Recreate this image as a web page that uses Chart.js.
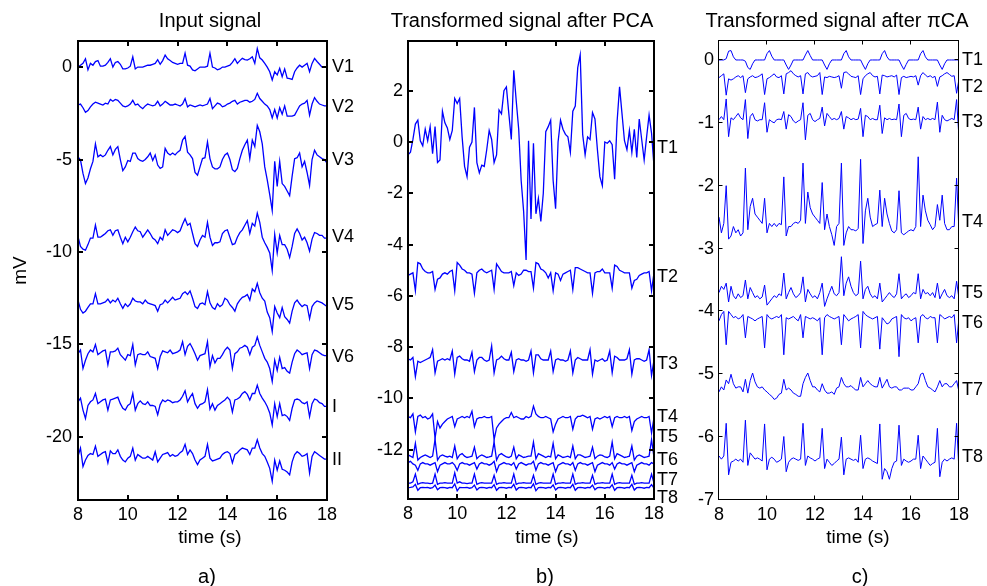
<!DOCTYPE html>
<html>
<head>
<meta charset="utf-8">
<script src="https://cdn.jsdelivr.net/npm/chart.js@4.4.1/dist/chart.umd.min.js"></script>
<style>
  body { margin: 0; background: #fff; }
  #wrap { position: relative; width: 987px; height: 586px; }
  #wrap canvas { position: absolute; left: 0; top: 0; }
</style>
</head>
<body>
<div id="wrap">
  <canvas id="chartA" width="987" height="586"></canvas>
  <canvas id="chartB" width="987" height="586"></canvas>
  <canvas id="chartC" width="987" height="586"></canvas>
</div>
<script>
// ---- data: one value every 0.1 s from 8.0 s to 18.0 s (101 samples) ----

// a) input signal, 8 leads (mV, already offset)
const v1 = [
  0.0, 0.1, 0.2, 0.45, -0.15, 0.2, 0.1, 0.3, 0.35, 0.05,
  0.05, 0.1, 0.25, 0.45, 0.0, 0.25, 0.3, 0.15, -0.1, -0.1,
  -0.05, 0.05, 0.55, -0.1, 0.0, 0.0, 0.0, 0.05, 0.1, 0.1,
  0.15, 0.2, 0.4, 0.15, 0.35, 0.65, 0.45, 0.35, 0.25, 0.2,
  0.15, 0.2, 0.2, 0.75, 0.1, 0.05, -0.15, -0.2, -0.1, 0.0,
  0.0, 0.0, 0.05, 0.75, 0.0, -0.05, -0.15, -0.1, 0.0, 0.0,
  0.05, 0.1, 0.25, 0.45, 0.2, 0.35, 0.47, 0.4, 0.38, 0.45,
  0.56, 0.2, 1.0, 0.5, 0.38, 0.2, 0.0, -0.25, -0.7, -0.25,
  -0.43, -0.07, -0.52, -0.1, -0.6, -0.62, -0.67, -0.25, -0.05, 0.1,
  0.0, 0.1, 0.2, -0.25, 0.2, 0.47, 0.3, 0.15, 0.0, 0.0,
  0.0
];
const v2 = [
  -2.05, -2.0, -2.2, -2.45, -2.35, -2.15, -2.0, -1.9, -1.95, -2.0,
  -2.05, -1.95, -2.0, -1.75, -1.85, -1.75, -1.8, -1.95, -2.1, -2.15,
  -2.1, -2.0, -1.8, -2.05, -2.0, -2.15, -2.25, -2.1, -2.0, -2.05,
  -2.1, -2.05, -1.85, -2.1, -2.0, -1.85, -1.95, -2.05, -2.05, -2.0,
  -2.05, -2.1, -2.0, -1.7, -2.15, -2.05, -2.1, -2.15, -2.1, -2.05,
  -2.1, -2.05, -2.0, -1.7, -2.25, -2.1, -1.95, -2.0, -2.15, -2.1,
  -2.0, -1.95, -1.85, -1.8, -2.0, -1.9, -1.85, -1.8, -1.8, -1.9,
  -1.85, -1.75, -1.42, -1.7, -1.85, -2.0, -2.1, -2.3, -2.75, -2.3,
  -2.75, -2.2, -2.55, -2.1, -2.65, -2.65, -2.65, -2.6, -2.35, -2.1,
  -2.0, -1.95, -1.8, -2.6, -2.0, -1.65, -1.85, -2.0, -2.05, -2.1,
  -2.1
];
const v3 = [
  -4.85, -5.03, -5.75, -6.3, -6.0, -5.5, -5.1, -4.15, -4.85, -4.75,
  -4.85, -4.75, -4.5, -4.3, -4.75, -4.45, -4.3, -5.0, -5.6, -5.4,
  -5.05, -5.1, -4.65, -4.65, -4.95, -5.05, -5.1, -5.0, -4.85, -4.65,
  -5.05, -4.75, -5.3, -5.48, -5.4, -4.4, -4.65, -4.75, -4.65, -4.75,
  -4.6, -4.5, -3.95, -3.75, -4.6, -4.75, -4.95, -5.7, -5.85, -5.4,
  -4.95, -4.9, -4.05, -4.95, -5.4, -5.5, -5.5, -5.4, -5.0, -4.75,
  -4.65, -5.0, -5.55, -5.65, -5.48, -4.95, -4.5, -4.2, -3.95, -4.95,
  -3.95, -4.3, -3.15, -3.5, -4.15, -5.4, -6.1, -6.9, -7.75, -5.1,
  -6.45, -5.1, -6.3, -6.45, -6.7, -6.95, -5.9, -4.95, -4.9, -4.65,
  -5.4, -5.1, -5.7, -6.4, -5.0, -4.5, -4.75, -4.85, -4.95, -5.0,
  -5.2
];
const v4 = [
  -9.17, -9.7, -9.85, -9.9, -9.6, -9.25, -9.25, -8.55, -9.2, -9.2,
  -9.1, -9.0, -8.85, -8.8, -9.1, -8.85, -8.8, -9.2, -9.55, -9.2,
  -9.45, -9.2, -8.9, -8.65, -8.85, -8.9, -9.2, -9.0, -8.8, -9.0,
  -9.25, -9.35, -9.55, -9.2, -9.35, -8.8, -9.1, -8.95, -8.8, -8.85,
  -8.95, -8.85, -8.5, -8.2, -8.55, -8.45, -9.0, -9.55, -9.7, -9.35,
  -9.1, -9.2, -8.4, -9.2, -9.65, -9.5, -9.5, -9.45, -9.0, -8.85,
  -8.8, -9.2, -9.6, -9.55, -9.2, -8.95, -8.8, -8.55, -8.3, -9.0,
  -8.45, -8.6, -7.9, -8.4, -9.2, -9.5, -9.75, -10.05, -11.0, -9.05,
  -10.05, -9.1, -9.6, -9.6, -9.85, -10.3, -9.7, -9.0, -8.75, -9.0,
  -9.35, -9.2, -9.5, -9.95, -9.3, -8.95, -9.0, -9.1, -9.1, -9.25,
  -9.25
];
const v5 = [
  -12.6, -13.1, -13.3, -13.2, -13.0, -12.8, -12.8, -12.25, -12.8, -12.8,
  -12.75, -12.7, -12.55, -12.75, -12.6, -12.7, -12.5, -12.8, -13.05, -12.8,
  -12.95, -12.8, -12.5, -12.65, -12.7, -12.7, -12.8, -12.6, -12.75, -12.8,
  -12.85, -12.9, -13.2, -12.85, -12.8, -12.6, -12.75, -12.6, -12.45, -12.6,
  -12.55, -12.5, -12.25, -12.15, -12.3, -12.1, -12.5, -12.95, -13.05, -12.8,
  -12.75, -12.85, -12.15, -12.75, -13.0, -13.1, -12.8, -12.95, -12.85, -12.5,
  -12.6, -12.85, -13.0, -13.2, -12.8, -12.6, -12.45, -12.4, -12.3, -12.6,
  -12.0, -12.15, -11.7, -12.2, -12.5, -12.65, -13.25, -13.55, -14.3, -12.95,
  -13.3, -13.55, -13.0, -13.5, -13.65, -13.85, -13.2, -12.75, -12.6, -12.8,
  -12.95, -12.85, -12.9, -13.6, -12.95, -12.75, -12.65, -12.7, -12.75, -12.85,
  -12.95
];
const v6 = [
  -15.5, -15.3, -16.3, -15.85, -15.5, -15.3, -15.4, -15.0, -15.55, -15.45,
  -15.35, -15.3, -16.1, -15.4, -15.4, -15.35, -15.2, -15.55, -15.7, -15.85,
  -15.55, -15.6, -15.0, -16.1, -15.55, -15.5, -15.55, -15.55, -15.4, -15.65,
  -15.7, -15.75, -16.3, -15.65, -15.35, -15.4, -15.45, -15.3, -15.5, -15.45,
  -15.4, -15.3, -14.85, -15.55, -15.1, -14.95, -15.2, -15.5, -15.85, -15.6,
  -15.55, -15.5, -14.85, -16.2, -15.6, -16.0, -15.75, -15.75, -15.55, -15.3,
  -15.15, -15.3, -16.3, -15.5, -15.4, -15.2, -15.15, -15.05, -15.15, -15.55,
  -15.15, -15.05, -14.6, -15.05, -15.4, -15.75, -15.95, -16.3, -17.0, -15.85,
  -16.4, -15.7, -16.3, -16.25, -16.45, -16.55, -15.95, -15.5, -15.3, -15.4,
  -15.55, -15.5, -15.45, -16.3, -15.55, -15.3, -15.35, -15.45, -15.55, -15.6,
  -15.6
];
const leadI = [
  -18.1, -17.9, -18.55, -19.0, -18.3, -18.1, -18.0, -17.65, -18.2, -18.1,
  -18.0, -17.95, -18.55, -18.0, -17.95, -17.9, -17.85, -18.2, -18.45, -18.55,
  -18.3, -18.2, -17.65, -18.55, -18.2, -18.05, -18.2, -18.25, -18.1, -18.3,
  -18.3, -18.35, -18.8, -18.25, -18.0, -18.1, -18.0, -18.05, -18.15, -18.1,
  -18.1, -18.0, -17.8, -17.5, -18.1, -17.85, -17.65, -18.2, -18.45, -18.25,
  -18.2, -18.1, -17.45, -18.5, -18.2, -18.55, -18.3, -18.2, -18.1, -18.0,
  -17.85, -18.0, -18.65, -18.0, -17.95, -17.85, -17.65, -17.55, -17.7, -18.0,
  -17.65, -17.65, -17.2, -17.65, -17.9, -18.1, -18.35, -18.7, -19.35, -18.2,
  -18.9, -18.2, -18.85, -18.8, -18.9, -19.1, -18.45, -18.0, -17.95, -18.0,
  -18.15, -18.2, -18.1, -18.9, -18.2, -17.95, -18.0, -18.15, -18.2, -18.35,
  -18.35
];
const leadII = [
  -21.05, -20.6, -21.6, -21.25, -21.0, -20.9, -20.95, -20.5, -21.05, -20.95,
  -20.85, -20.8, -21.4, -20.75, -20.9, -20.9, -20.7, -21.05, -21.25, -21.35,
  -21.15, -21.05, -20.6, -21.25, -20.95, -21.05, -21.15, -21.15, -21.05, -21.15,
  -21.25, -20.8, -21.35, -21.15, -20.95, -20.9, -20.85, -21.05, -20.95, -21.05,
  -21.0, -20.85, -20.75, -20.4, -20.95, -20.7, -20.9, -21.25, -21.5, -21.25,
  -21.15, -21.05, -20.4, -21.15, -21.3, -21.25, -21.2, -21.15, -20.95, -20.85,
  -20.8, -20.9, -21.4, -20.95, -20.85, -20.7, -20.6, -20.65, -20.7, -20.95,
  -20.6, -20.6, -20.15, -20.6, -20.9, -21.05, -21.35, -21.7, -22.4, -21.25,
  -21.8, -21.3, -21.75, -21.8, -21.9, -22.05, -21.35, -20.95, -20.8, -20.9,
  -21.05, -21.0, -20.9, -21.95, -21.05, -20.8, -20.9, -21.0, -21.1, -21.2,
  -21.2
];

// b) transformed signal after PCA
const pcaT1 = [
  -0.5, -0.4, 0.1, 0.7, 0.85, 0.05, -0.15, 0.5, 0.05, 0.6,
  -0.45, 0.6, -0.8, -0.7, 1.2, 0.75, 0.55, 0.1, 0.45, 1.7,
  1.5, 1.7, 0.2, -0.95, -1.35, -0.2, 0.0, 1.35, -0.8, -1.2,
  -0.9, -0.95, -0.3, 0.45, 0.1, -0.8, -0.5, 1.25, 1.1, 2.0,
  2.15, 1.1, 0.1, 2.8, 1.6, 0.5, -1.5, -2.7, -4.6, 0.05,
  -3.0, -0.05, -2.8, -2.2, -3.1, -2.0, 0.4, 0.6, 0.85, -1.5,
  -2.6, 0.0, 0.85, 0.5, 0.3, 0.2, -0.4, 1.2, 1.4, 2.9,
  3.4, 0.3, -0.5, 0.2, 0.1, 1.15, 0.9, -0.3, -1.35, -1.7,
  0.0, -0.05, 0.05, -0.1, -1.45, 0.8, 2.15, 1.1, 0.05, -0.3,
  0.45, -0.4, 0.5, -0.6, 0.9, 0.1, -0.7, 0.2, 1.05, 0.35,
  -0.95
];
const pcaT2 = [
  -5.2, -5.15, -5.1, -5.8, -4.7, -4.75, -4.95, -5.05, -5.1, -5.1,
  -5.05, -5.75, -5.35, -5.3, -5.15, -5.1, -5.15, -5.05, -5.0, -5.8,
  -4.7, -4.8, -4.95, -5.0, -5.1, -5.1, -5.15, -5.9, -5.1, -5.0,
  -4.95, -5.05, -5.1, -5.05, -5.0, -5.75, -4.75, -4.9, -5.05, -5.1,
  -5.1, -5.1, -5.05, -5.6, -5.1, -5.2, -5.15, -5.0, -5.0, -5.05,
  -5.05, -5.7, -4.7, -4.75, -4.95, -5.0, -5.1, -5.3, -5.1, -5.8,
  -5.1, -5.15, -5.4, -5.15, -5.1, -5.05, -5.0, -5.75, -4.9, -4.9,
  -4.95, -5.0, -5.05, -5.1, -5.1, -5.9, -5.1, -5.05, -5.05, -4.95,
  -5.1, -5.1, -5.1, -5.7, -4.8, -4.85, -5.0, -5.05, -5.1, -5.1,
  -5.1, -5.7, -5.4, -5.35, -5.2, -5.15, -5.1, -5.1, -5.05, -5.8,
  -5.1
];
const pcaT3 = [
  -8.45, -8.5, -8.4, -9.15, -8.55, -8.6, -8.55, -8.5, -8.45, -8.4,
  -8.1, -9.0, -8.55, -8.5, -8.45, -8.5, -8.45, -8.5, -8.15, -9.05,
  -8.4, -8.35, -8.45, -8.5, -8.5, -8.55, -8.2, -8.95, -8.5, -8.4,
  -8.4, -8.5, -8.55, -8.5, -7.95, -9.0, -8.5, -8.45, -8.35, -8.45,
  -8.5, -8.5, -8.2, -8.95, -8.5, -8.45, -8.5, -8.5, -8.55, -8.5,
  -8.15, -9.0, -8.3, -8.3, -8.45, -8.5, -8.5, -8.5, -8.15, -8.95,
  -8.5, -8.45, -8.5, -8.5, -8.55, -8.5, -8.15, -9.0, -8.5, -8.4,
  -8.45, -8.5, -8.5, -8.5, -8.1, -9.05, -8.5, -8.55, -8.5, -8.45,
  -8.55, -8.5, -8.15, -9.0, -8.35, -8.4, -8.5, -8.5, -8.5, -8.45,
  -8.1, -9.05, -8.5, -8.45, -8.45, -8.5, -8.55, -8.5, -8.1, -9.1,
  -8.5
];
const pcaT4 = [
  -10.7, -10.75, -10.6, -11.3, -10.7, -10.65, -10.75, -10.7, -10.8, -10.75,
  -10.6, -11.55, -10.9, -11.15, -11.0, -10.9, -10.8, -10.75, -10.7, -11.1,
  -10.8, -10.75, -10.7, -10.75, -10.7, -10.75, -10.5, -11.1, -10.8, -10.75,
  -10.75, -10.7, -10.75, -10.75, -10.7, -11.6, -11.15, -11.0, -10.9, -10.8,
  -10.75, -10.75, -10.55, -10.75, -10.7, -10.75, -10.8, -10.8, -10.7, -10.75,
  -10.7, -10.3, -10.6, -10.7, -10.75, -10.75, -10.7, -10.75, -10.8, -11.3,
  -11.0, -10.8, -10.75, -10.7, -10.75, -10.75, -10.7, -11.2, -10.8, -10.7,
  -10.7, -10.65, -10.7, -10.75, -10.7, -11.2, -10.8, -10.75, -10.8, -10.75,
  -10.7, -10.75, -10.7, -11.1, -10.75, -10.7, -10.75, -10.75, -10.7, -10.75,
  -10.7, -11.25, -10.9, -10.8, -10.75, -10.7, -10.75, -10.75, -10.7, -11.35,
  -10.75
];
const pcaT5 = [
  -12.2, -12.25, -12.3, -11.75, -12.4, -12.3, -12.25, -12.2, -12.25, -12.3,
  -12.25, -11.6, -12.4, -12.25, -12.2, -12.25, -12.28, -12.25, -12.3, -11.85,
  -12.35, -12.2, -12.15, -12.25, -12.3, -12.28, -12.25, -11.9, -12.35, -12.25,
  -12.2, -12.25, -12.3, -12.28, -12.25, -11.7, -12.4, -12.2, -12.15, -12.22,
  -12.28, -12.3, -12.25, -11.9, -12.35, -12.2, -12.25, -12.3, -12.28, -12.25,
  -12.25, -11.7, -12.35, -12.15, -12.2, -12.25, -12.3, -12.25, -12.28, -11.75,
  -12.35, -12.2, -12.25, -12.3, -12.28, -12.25, -12.3, -11.85, -12.35, -12.2,
  -12.2, -12.25, -12.3, -12.28, -12.25, -11.9, -12.35, -12.25, -12.2, -12.22,
  -12.28, -12.3, -12.25, -11.7, -12.35, -12.15, -12.2, -12.25, -12.3, -12.28,
  -12.25, -11.85, -12.4, -12.25, -12.2, -12.25, -12.3, -12.28, -12.25, -11.6,
  -12.3
];
const pcaT6 = [
  -12.5, -12.45, -12.55, -12.6, -12.8, -12.55, -12.5, -12.55, -12.55, -12.6,
  -12.55, -12.5, -12.85, -12.6, -12.55, -12.5, -12.55, -12.55, -12.5, -12.6,
  -12.8, -12.55, -12.5, -12.55, -12.55, -12.6, -12.55, -12.5, -12.75, -12.55,
  -12.5, -12.55, -12.55, -12.6, -12.55, -12.45, -12.85, -12.6, -12.55, -12.5,
  -12.55, -12.55, -12.6, -12.5, -12.75, -12.55, -12.5, -12.55, -12.6, -12.55,
  -12.55, -12.45, -12.8, -12.55, -12.5, -12.55, -12.55, -12.6, -12.55, -12.5,
  -12.85, -12.6, -12.55, -12.5, -12.55, -12.55, -12.6, -12.5, -12.8, -12.55,
  -12.5, -12.55, -12.55, -12.6, -12.55, -12.5, -12.85, -12.6, -12.55, -12.5,
  -12.55, -12.55, -12.6, -12.5, -12.75, -12.55, -12.5, -12.55, -12.55, -12.6,
  -12.55, -12.5, -12.85, -12.6, -12.55, -12.5, -12.55, -12.55, -12.6, -12.5,
  -12.55
];
const pcaT7 = [
  -13.3, -13.3, -13.25, -12.95, -13.35, -13.3, -13.28, -13.3, -13.3, -13.32,
  -13.3, -12.95, -13.35, -13.3, -13.3, -13.28, -13.3, -13.3, -13.3, -12.9,
  -13.3, -13.25, -13.3, -13.3, -13.32, -13.3, -13.3, -12.95, -13.35, -13.3,
  -13.28, -13.3, -13.3, -13.3, -13.3, -13.0, -13.35, -13.3, -13.3, -13.28,
  -13.3, -13.3, -13.3, -12.95, -13.35, -13.3, -13.3, -13.28, -13.3, -13.3,
  -13.3, -13.0, -13.35, -13.3, -13.28, -13.3, -13.3, -13.3, -13.3, -12.95,
  -13.35, -13.3, -13.3, -13.28, -13.3, -13.3, -13.3, -12.95, -13.35, -13.3,
  -13.3, -13.28, -13.3, -13.3, -13.3, -13.0, -13.35, -13.3, -13.3, -13.28,
  -13.3, -13.3, -13.3, -12.95, -13.35, -13.3, -13.28, -13.3, -13.3, -13.3,
  -13.3, -13.0, -13.35, -13.3, -13.3, -13.28, -13.3, -13.3, -13.3, -12.95,
  -13.3
];
const pcaT8 = [
  -13.48, -13.47, -13.45, -13.35, -13.58, -13.48, -13.47, -13.48, -13.47, -13.5,
  -13.48, -13.38, -13.56, -13.48, -13.47, -13.48, -13.5, -13.47, -13.48, -13.33,
  -13.6, -13.47, -13.48, -13.48, -13.47, -13.5, -13.48, -13.38, -13.57, -13.48,
  -13.47, -13.48, -13.5, -13.47, -13.48, -13.36, -13.58, -13.48, -13.47, -13.48,
  -13.5, -13.47, -13.48, -13.35, -13.57, -13.48, -13.47, -13.48, -13.5, -13.47,
  -13.48, -13.33, -13.6, -13.48, -13.47, -13.48, -13.5, -13.47, -13.48, -13.37,
  -13.57, -13.48, -13.47, -13.48, -13.5, -13.47, -13.48, -13.35, -13.58, -13.48,
  -13.47, -13.48, -13.5, -13.47, -13.48, -13.38, -13.56, -13.48, -13.47, -13.48,
  -13.5, -13.47, -13.48, -13.36, -13.58, -13.48, -13.47, -13.48, -13.5, -13.47,
  -13.48, -13.35, -13.57, -13.48, -13.47, -13.48, -13.5, -13.47, -13.48, -13.36,
  -13.5
];

// c) transformed signal after piCA
const piT1 = [
  0, 0, 0, 0.02, 0.14, 0.15, 0.05, 0, 0, 0,
  0, -0.02, -0.12, -0.15, -0.06, 0, 0, 0, 0, 0,
  0.1, 0.15, 0.06, 0, 0, 0, 0, 0, -0.08, -0.15,
  -0.08, 0, 0, 0, 0, 0, 0.08, 0.15, 0.07, 0,
  0, 0, 0, 0, -0.08, -0.15, -0.06, 0, 0, 0,
  0, 0, 0.1, 0.15, 0.05, 0, 0, 0, 0, 0,
  -0.08, -0.15, -0.06, 0, 0, 0, 0, 0, 0.1, 0.15,
  0.05, 0, 0, 0, 0, 0, -0.08, -0.15, -0.07, 0,
  0, 0, 0, 0, 0.1, 0.15, 0.05, 0, 0, 0,
  0, 0, -0.08, -0.15, -0.06, 0, 0, 0, 0, 0,
  0
];
const piT2 = [
  -0.28, -0.25, -0.22, -0.56, -0.3, -0.32, -0.3, -0.27, -0.25, -0.28,
  -0.25, -0.52, -0.3, -0.27, -0.25, -0.28, -0.27, -0.25, -0.22, -0.55,
  -0.3, -0.28, -0.25, -0.22, -0.27, -0.28, -0.25, -0.54, -0.22, -0.2,
  -0.17, -0.22, -0.25, -0.27, -0.25, -0.54, -0.22, -0.2, -0.25, -0.27,
  -0.26, -0.25, -0.2, -0.55, -0.27, -0.28, -0.26, -0.27, -0.28, -0.27,
  -0.25, -0.45, -0.2, -0.19, -0.22, -0.26, -0.27, -0.28, -0.25, -0.55,
  -0.3, -0.25, -0.22, -0.2, -0.25, -0.27, -0.26, -0.54, -0.24, -0.25,
  -0.27, -0.26, -0.25, -0.27, -0.24, -0.55, -0.28, -0.26, -0.28, -0.27,
  -0.26, -0.27, -0.25, -0.4, -0.25, -0.2, -0.24, -0.27, -0.25, -0.28,
  -0.26, -0.42, -0.27, -0.25, -0.22, -0.2, -0.23, -0.26, -0.25, -0.53,
  -0.3
];
const piT3 = [
  -0.95, -0.9, -0.95, -0.62, -1.22, -0.92, -0.95, -0.9, -0.85, -0.92,
  -0.95, -0.63, -1.25, -0.9, -0.85, -0.95, -0.97, -0.95, -0.95, -0.68,
  -1.15, -0.95, -0.98, -1.0, -0.95, -0.94, -0.95, -0.82, -1.1, -0.87,
  -0.9, -0.97, -1.0, -0.97, -0.95, -0.68, -1.27, -0.88, -0.85, -0.95,
  -0.98, -0.95, -0.93, -0.75, -1.05, -0.85, -0.9, -0.95, -0.93, -0.95,
  -0.93, -0.82, -1.1, -0.9, -0.92, -0.95, -0.93, -0.95, -0.94, -0.77,
  -1.22, -0.88, -0.9, -0.95, -0.93, -0.95, -0.95, -0.72, -1.17, -0.92,
  -0.95, -0.93, -0.95, -0.94, -0.95, -0.7, -1.22, -0.88, -0.85, -0.93,
  -0.95, -0.94, -0.95, -0.75, -1.1, -0.9, -0.95, -0.93, -0.95, -0.93,
  -0.95, -0.67, -1.15, -0.88, -0.95, -0.97, -0.95, -0.93, -0.95, -0.63,
  -1.25
];
const piT4 = [
  -2.5, -2.75, -2.6, -2.0, -2.85, -2.8, -2.65, -2.75, -2.7, -2.8,
  -2.75, -1.72, -2.7, -2.33, -2.2, -2.45, -2.5, -2.55, -2.6, -2.2,
  -2.75, -2.6, -2.65, -2.6, -2.65, -2.6, -2.62, -1.86, -2.8, -2.65,
  -2.65, -2.6, -2.58, -2.6, -2.55, -1.64, -2.6, -2.1, -2.35, -2.45,
  -2.5, -2.55, -2.6, -1.95, -2.7, -2.45, -2.65, -2.78, -2.95, -2.65,
  -2.6, -1.64, -2.95, -2.75, -2.65, -2.7, -2.7, -2.72, -2.68, -1.58,
  -2.92, -2.4, -2.2, -2.5, -2.65, -2.62, -2.6, -2.07, -2.65, -2.2,
  -2.45, -2.6, -2.72, -2.75, -2.7, -2.08, -2.75, -2.78, -2.75, -2.72,
  -2.7, -2.72, -2.65, -1.54, -2.65, -2.15, -2.4, -2.55, -2.62, -2.7,
  -2.65, -2.3, -2.55, -2.15, -2.6, -2.7, -2.7, -2.65, -2.65, -1.88,
  -2.75
];
const piT5 = [
  -3.7, -3.6, -3.65, -3.55, -3.85, -3.6, -3.75, -3.8, -3.72, -3.78,
  -3.75, -3.5, -3.8, -3.62, -3.7, -3.78, -3.75, -3.8, -3.77, -3.58,
  -3.9, -3.85, -3.8, -3.75, -3.78, -3.72, -3.75, -3.39, -3.8, -3.7,
  -3.62, -3.72, -3.78, -3.75, -3.7, -3.45, -3.85, -3.65, -3.72, -3.78,
  -3.75, -3.8, -3.7, -3.55, -3.92, -3.8, -3.7, -3.6, -3.72, -3.75,
  -3.7, -3.13, -3.75, -3.55, -3.45, -3.6, -3.7, -3.75, -3.72, -3.2,
  -3.8, -3.65, -3.6, -3.72, -3.78, -3.75, -3.8, -3.55, -3.85, -3.8,
  -3.75, -3.7, -3.75, -3.78, -3.72, -3.4, -3.8, -3.75, -3.72, -3.78,
  -3.75, -3.7, -3.72, -3.4, -3.8, -3.65, -3.72, -3.7, -3.75, -3.7,
  -3.78, -3.55, -3.8, -3.72, -3.65, -3.75, -3.78, -3.75, -3.8, -3.52,
  -3.8
];
const piT6 = [
  -4.15, -4.05, -4.0, -4.53, -4.0, -4.05, -4.1, -4.08, -4.12, -4.1,
  -4.05, -4.42, -4.08, -4.1, -4.12, -4.15, -4.12, -4.1, -4.08, -4.58,
  -4.05, -4.1, -4.12, -4.1, -4.08, -4.1, -4.05, -4.69, -4.1, -4.12,
  -4.1, -4.08, -4.12, -4.15, -4.05, -4.42, -4.08, -4.1, -4.12, -4.1,
  -4.12, -4.15, -4.1, -4.69, -4.1, -4.05, -4.08, -4.1, -4.12, -4.1,
  -4.08, -4.53, -4.05, -4.1, -4.15, -4.12, -4.1, -4.08, -4.05, -4.58,
  -4.0, -4.05, -4.08, -4.1, -4.12, -4.1, -4.08, -4.6, -4.1, -4.15,
  -4.2, -4.18, -4.12, -4.1, -4.08, -4.72, -4.05, -4.1, -4.12, -4.1,
  -4.15, -4.12, -4.1, -4.5, -4.08, -4.05, -4.1, -4.12, -4.08, -4.1,
  -4.1, -4.5, -4.05, -4.08, -4.12, -4.1, -4.08, -4.1, -4.05, -4.5,
  -4.1
];
const piT7 = [
  -5.28, -5.2, -5.25, -5.09, -5.15, -5.0, -5.15, -5.22, -5.2, -5.2,
  -5.28, -5.08, -5.3, -5.1, -4.98, -5.12, -5.2, -5.22, -5.2, -5.25,
  -5.28, -5.32, -5.35, -5.4, -5.38, -5.32, -5.3, -5.08, -5.25, -5.22,
  -5.25, -5.3, -5.32, -5.35, -5.35, -5.15, -5.05, -4.98, -5.1, -5.2,
  -5.2, -5.25, -5.28, -5.15, -5.25, -5.3, -5.3, -5.28, -5.32, -5.22,
  -5.2, -5.05, -5.15, -5.2, -5.2, -5.18, -5.22, -5.25, -5.25, -5.05,
  -5.2, -5.15, -5.1, -5.15, -5.18, -5.2, -5.2, -5.05, -5.22, -5.15,
  -5.08, -5.2, -5.22, -5.2, -5.2, -5.25, -5.25, -5.22, -5.22, -5.22,
  -5.25, -5.25, -5.2, -5.15, -5.0, -4.98, -5.1, -5.2, -5.22, -5.25,
  -5.28, -5.2, -5.1, -5.2, -5.15, -5.15, -5.2, -5.2, -5.15, -5.1,
  -5.28
];
const piT8 = [
  -6.3, -6.35, -6.3, -5.78, -6.6, -6.4, -6.38, -6.35, -6.38, -6.35,
  -6.4, -5.73, -6.45, -6.25, -6.3, -6.35, -6.33, -6.35, -6.38, -5.79,
  -6.52, -6.35, -6.32, -6.35, -6.4, -6.38, -6.35, -5.99, -6.55, -6.4,
  -6.35, -6.33, -6.35, -6.37, -6.35, -5.78, -6.45, -6.3, -6.33, -6.35,
  -6.38, -6.35, -6.33, -5.86, -6.5, -6.35, -6.4, -6.45, -6.42, -6.38,
  -6.35, -6.0, -6.6, -6.35, -6.33, -6.35, -6.37, -6.35, -6.4, -5.97,
  -6.5, -6.35, -6.33, -6.35, -6.38, -6.4, -6.42, -5.79, -6.67, -6.5,
  -6.55, -6.67, -6.5, -6.4, -6.38, -5.81, -6.45, -6.35, -6.38, -6.4,
  -6.38, -6.35, -6.35, -5.97, -6.5, -6.3, -6.35, -6.4, -6.45, -6.42,
  -6.4, -5.86, -6.63, -6.4, -6.35, -6.38, -6.35, -6.33, -6.35, -5.78,
  -6.55
];

// names and where their tags sit on the right edge (value units)
const leadNames = ['V1', 'V2', 'V3', 'V4', 'V5', 'V6', 'I', 'II'];
const leadTagAt = [0, -2.16, -5.03, -9.19, -12.86, -15.68, -18.38, -21.24];
const compNames = ['T1', 'T2', 'T3', 'T4', 'T5', 'T6', 'T7', 'T8'];
const pcaTagAt = [-0.23, -5.27, -8.66, -10.73, -11.5, -12.4, -13.18, -13.88];
const piTagAt = [0, -0.43, -0.99, -2.58, -3.71, -4.18, -5.25, -6.32];

// ticks
const xTicks = [8, 10, 12, 14, 16, 18];
const yTicksA = [0, -5, -10, -15, -20];
const yTicksB = [2, 0, -2, -4, -6, -8, -10, -12];
const yTicksC = [0, -1, -2, -3, -4, -5, -6, -7];

const times = v1.map((_, i) => 8 + i / 10);
const FONT = '"Liberation Sans", Arial, Helvetica, sans-serif';
const BLUE = '#0000ff';

function toPoints(values) {
  return values.map((v, i) => ({ x: times[i], y: v }));
}

// MATLAB-like box: frame, inward ticks on all sides, tags, title, xlabel, panel letter
const boxPlugin = {
  id: 'matlabBox',
  afterDraw(chart, args, o) {
    const { ctx, chartArea: a, scales: { x, y } } = chart;
    const off = o.frameWidth === 1 ? 0.5 : 0;
    const L = a.left - off, R = a.right - off, T = a.top - off, B = a.bottom - off;
    ctx.save();
    ctx.strokeStyle = '#000';
    ctx.lineWidth = o.frameWidth;
    ctx.strokeRect(L, T, R - L, B - T);
    ctx.beginPath();
    x.ticks.forEach(t => {
      const px = Math.round(x.getPixelForValue(t.value)) - off;
      ctx.moveTo(px, B); ctx.lineTo(px, B - o.tickLength);
      ctx.moveTo(px, T); ctx.lineTo(px, T + o.tickLength);
    });
    y.ticks.forEach(t => {
      const py = Math.round(y.getPixelForValue(t.value)) - off;
      ctx.moveTo(L, py); ctx.lineTo(L + o.tickLength, py);
      ctx.moveTo(R, py); ctx.lineTo(R - o.tickLength, py);
    });
    ctx.stroke();

    ctx.fillStyle = '#000';
    ctx.textBaseline = 'middle';
    ctx.textAlign = 'left';
    ctx.font = '18px ' + FONT;
    o.names.forEach((n, i) => {
      ctx.fillText(n, a.right + o.tagGap, y.getPixelForValue(o.tagAt[i]));
    });

    ctx.textAlign = 'center';
    ctx.font = '20px ' + FONT;
    ctx.fillText(o.title, o.titleX, 21);
    ctx.font = '19px ' + FONT;
    ctx.fillText('time (s)', o.xLabelX, 538);
    ctx.font = '20px ' + FONT;
    ctx.fillText(o.letter, o.letterX, 577);
    ctx.restore();
  }
};

function makeChart(id, series, p) {
  return new Chart(document.getElementById(id), {
    type: 'line',
    data: {
      datasets: series.map(values => ({
        data: toPoints(values),
        borderColor: BLUE,
        borderWidth: p.lineWidth,
        pointRadius: 0,
        tension: 0,
        fill: false
      }))
    },
    options: {
      responsive: false,
      animation: false,
      events: [],
      layout: { padding: p.padding },
      plugins: {
        legend: { display: false },
        tooltip: { enabled: false },
        matlabBox: p.box
      },
      scales: {
        x: {
          type: 'linear', min: 8, max: 18,
          grid: { display: false, drawTicks: false }, border: { display: false },
          afterBuildTicks: s => { s.ticks = xTicks.map(v => ({ value: v })); },
          afterFit: s => { s.height = 40; },
          ticks: { color: '#000', font: { family: FONT, size: 18 }, padding: 4, maxRotation: 0, autoSkip: false }
        },
        y: {
          type: 'linear', min: p.yMin, max: p.yMax,
          grid: { display: false, drawTicks: false }, border: { display: false },
          afterBuildTicks: s => { s.ticks = p.yTicks.map(v => ({ value: v })); },
          afterFit: s => { s.width = p.yWidth; },
          ticks: { color: '#000', font: { family: FONT, size: 18 }, padding: p.yPad, autoSkip: false },
          title: p.yTitle
        }
      }
    },
    plugins: [boxPlugin]
  });
}

makeChart('chartA', [v1, v2, v3, v4, v5, v6, leadI, leadII], {
  lineWidth: 1.3, yMin: -23.41, yMax: 1.41, yTicks: yTicksA, yWidth: 78, yPad: 6,
  padding: { left: 0, right: 660, top: 41, bottom: 46 },
  yTitle: { display: true, text: 'mV', color: '#000', font: { family: FONT, size: 19 }, padding: { top: 9, bottom: 0 } },
  box: { frameWidth: 2, tickLength: 5, names: leadNames, tagAt: leadTagAt, tagGap: 5,
         title: 'Input signal', titleX: 210, xLabelX: 210, letter: 'a)', letterX: 207 }
});

makeChart('chartB', [pcaT1, pcaT2, pcaT3, pcaT4, pcaT5, pcaT6, pcaT7, pcaT8], {
  lineWidth: 1.3, yMin: -13.92, yMax: 3.94, yTicks: yTicksB, yWidth: 50, yPad: 5,
  padding: { left: 358, right: 333, top: 41, bottom: 47 },
  yTitle: { display: false },
  box: { frameWidth: 2, tickLength: 5, names: compNames, tagAt: pcaTagAt, tagGap: 3,
         title: 'Transformed signal after PCA', titleX: 522, xLabelX: 547, letter: 'b)', letterX: 545 }
});

makeChart('chartC', [piT1, piT2, piT3, piT4, piT5, piT6, piT7, piT8], {
  lineWidth: 1, yMin: -7, yMax: 0.302, yTicks: yTicksC, yWidth: 50, yPad: 5,
  padding: { left: 669, right: 28, top: 41, bottom: 46 },
  yTitle: { display: false },
  box: { frameWidth: 1, tickLength: 4, names: compNames, tagAt: piTagAt, tagGap: 3,
         title: 'Transformed signal after \u03c0CA', titleX: 837, xLabelX: 858, letter: 'c)', letterX: 860 }
});
</script>
</body>
</html>
